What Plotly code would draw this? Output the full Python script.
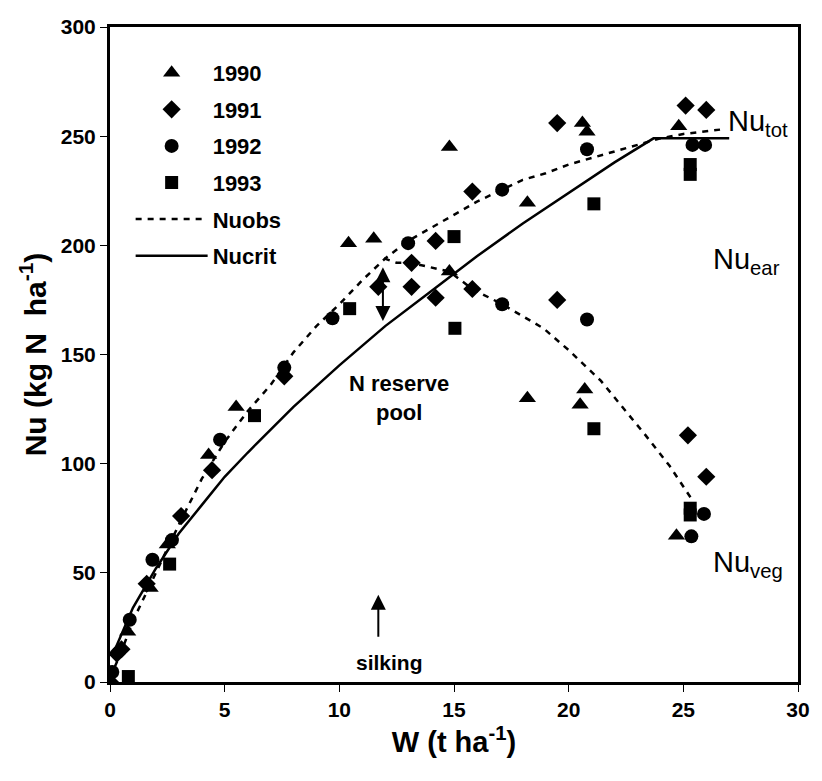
import plotly.graph_objects as go

# Measured N uptake (kg N/ha) against shoot biomass W (t/ha), per year
w_1990 = [0.77, 1.75, 2.5, 4.3, 5.5, 10.4, 11.5, 14.8, 14.8, 18.2, 18.2, 20.6, 20.8, 20.7, 20.5, 24.8, 24.7]
nu_1990 = [23, 43, 63, 104, 126, 201, 203, 245, 188, 219.5, 130, 256, 252, 134, 127, 254.5, 67]

w_1991 = [0.0, 0.3, 0.5, 1.6, 3.1, 4.45, 7.6, 11.7, 13.15, 13.15, 14.2, 14.2, 15.8, 15.8, 19.5, 19.5, 25.1, 26.0, 25.2, 26.0]
nu_1991 = [0, 13, 15, 45, 76, 97, 140, 181, 192, 181, 202, 176, 224.6, 180, 256, 175, 264, 262, 113, 94]

w_1992 = [0.1, 0.86, 1.85, 2.7, 4.8, 7.6, 9.7, 13.0, 17.1, 17.1, 20.8, 20.8, 25.4, 25.95, 25.9, 25.35]
nu_1992 = [4.6, 28.5, 56, 65, 111, 144, 166.6, 201, 225.5, 173, 244, 166, 246, 246, 77, 66.7]

w_1993 = [0.8, 2.6, 6.3, 10.45, 15.0, 15.04, 21.1, 21.1, 25.3, 25.3, 25.3, 25.3]
nu_1993 = [2.5, 54, 122, 171, 204, 162, 219, 116, 237, 232.5, 79.6, 76.5]

# Observed total uptake curve (Nuobs)
w_obs = [0, 0.5, 1, 2, 3, 4, 5, 6, 7, 8, 9, 10, 11, 12, 13, 14, 15, 16, 17, 18, 19, 20, 21, 22, 23, 24, 25, 26.6]
nu_obs = [2, 14, 28, 50, 72, 93, 110, 124, 136, 151, 163, 173, 184, 194, 202, 208, 214, 220, 225, 230, 233, 237, 240, 243, 246, 249, 251, 253]

# Vegetative uptake after silking
w_veg = [11.95, 12.5, 13.1, 14.0, 14.8, 15.8, 17.1, 18.9, 20.0, 21.4, 22.3, 23.3, 24.4, 25.35]
nu_veg = [194, 192, 192, 190, 188, 180, 173, 162, 152, 138, 126.5, 113.7, 99, 84]

# Critical N uptake curve (Nucrit) with its plateau
w_crit = [0.1, 0.5, 1, 2, 3, 4, 5, 6, 8, 10, 12, 14, 16, 18, 20, 22, 23.7, 27.0]
nu_crit = [12, 22, 34, 52, 68, 81, 94, 105, 126, 145, 163, 179, 195, 210, 224, 238, 249, 249]

# Reserve-pool arrow and silking marker
reserve_w = 11.9
reserve_top, reserve_bottom = 190, 164.6
silking_w = 11.7

x_ticks = [0, 5, 10, 15, 20, 25, 30]
y_ticks = [0, 50, 100, 150, 200, 250, 300]

FONT = "Liberation Sans"
BLACK = "#000000"
DASH = "6px,6px"

fig = go.Figure()

marker_sets = [
    ("1990", w_1990, nu_1990, "triangle-up", 15),
    ("1991", w_1991, nu_1991, "diamond", 14),
    ("1992", w_1992, nu_1992, "circle", 14),
    ("1993", w_1993, nu_1993, "square", 13),
]
for name, xs, ys, sym, sz in marker_sets:
    fig.add_trace(go.Scatter(
        x=xs, y=ys, mode="markers", name=name, legendgroup=name,
        marker=dict(symbol=sym, size=sz, color=BLACK, line=dict(width=0)),
    ))

fig.add_trace(go.Scatter(
    x=w_obs, y=nu_obs, mode="lines", name="Nuobs", legendgroup="obs",
    line=dict(color=BLACK, width=2.5, dash=DASH),
))
fig.add_trace(go.Scatter(
    x=w_crit, y=nu_crit, mode="lines", name="Nucrit", legendgroup="crit",
    line=dict(color=BLACK, width=2.5),
))
fig.add_trace(go.Scatter(
    x=w_veg, y=nu_veg, mode="lines", name="Nuveg", showlegend=False,
    line=dict(color=BLACK, width=2.5, dash=DASH),
))

label_font = dict(size=29, family=FONT, color=BLACK)
annotations = [
    dict(x=26.85, y=256, text="Nu<sub>tot</sub>", xanchor="left", yanchor="middle",
         showarrow=False, font=label_font),
    dict(x=26.2, y=193, text="Nu<sub>ear</sub>", xanchor="left", yanchor="middle",
         showarrow=False, font=label_font),
    dict(x=26.2, y=54, text="Nu<sub>veg</sub>", xanchor="left", yanchor="middle",
         showarrow=False, font=label_font),
    dict(x=12.6, y=130, text="<b>N reserve<br>pool</b>", xanchor="center", yanchor="middle",
         showarrow=False, font=dict(size=22, family=FONT, color=BLACK)),
    dict(x=12.2, y=9, text="<b>silking</b>", xanchor="center", yanchor="middle",
         showarrow=False, font=dict(size=21, family=FONT, color=BLACK)),
    # silking arrow
    dict(x=silking_w, y=40, ax=silking_w, ay=20, xref="x", yref="y", axref="x", ayref="y",
         text="", showarrow=True, arrowhead=2, arrowsize=1.5, arrowwidth=2, arrowcolor=BLACK),
    # double-headed reserve arrow
    dict(x=reserve_w, y=reserve_top, ax=reserve_w, ay=reserve_bottom, xref="x", yref="y",
         axref="x", ayref="y", text="", showarrow=True, arrowhead=2, arrowside="end+start",
         arrowsize=1.5, arrowwidth=2, arrowcolor=BLACK),
]

axis_common = dict(
    showline=True, linecolor=BLACK, linewidth=3, mirror=True,
    showgrid=False, zeroline=False,
    ticks="outside", ticklen=7, tickwidth=1, tickcolor=BLACK,
    tickfont=dict(size=21, family=FONT, color=BLACK),
)

fig.update_layout(
    width=822, height=781,
    paper_bgcolor="white", plot_bgcolor="white",
    margin=dict(l=110, r=16, t=27, b=99),
    font=dict(family=FONT, color=BLACK),
    xaxis=dict(range=[0, 30], tickvals=x_ticks, ticktext=[f"<b>{v}</b>" for v in x_ticks],
               title=dict(text="<b>W (t ha<sup>-1</sup>)</b>", font=dict(size=29, family=FONT), standoff=12),
               **axis_common),
    yaxis=dict(range=[0, 300], tickvals=y_ticks, ticktext=[f"<b>{v}</b>" for v in y_ticks],
               title=dict(text="<b>Nu (kg N  ha<sup>-1</sup>)</b>", font=dict(size=30, family=FONT), standoff=6),
               **axis_common),
    xaxis2=dict(range=[0, 30], overlaying="x", anchor="y", tickvals=x_ticks, ticks="inside",
                ticklen=7, tickcolor=BLACK, showticklabels=False, showgrid=False,
                zeroline=False, showline=False),
    yaxis2=dict(range=[0, 300], overlaying="y", anchor="x", tickvals=y_ticks, ticks="inside",
                ticklen=7, tickcolor=BLACK, showticklabels=False, showgrid=False,
                zeroline=False, showline=False),
    legend=dict(x=0.03, y=0.962, xanchor="left", yanchor="top",
                bgcolor="rgba(0,0,0,0)", borderwidth=0,
                font=dict(size=22, family=FONT, color=BLACK),
                itemwidth=72, tracegroupgap=5, traceorder="grouped"),
    annotations=annotations,
    showlegend=True,
)

# Bold legend labels
for tr in fig.data:
    if tr.showlegend is not False:
        tr.name = f"<b>{tr.name}</b>"

fig.write_html("out.html")
